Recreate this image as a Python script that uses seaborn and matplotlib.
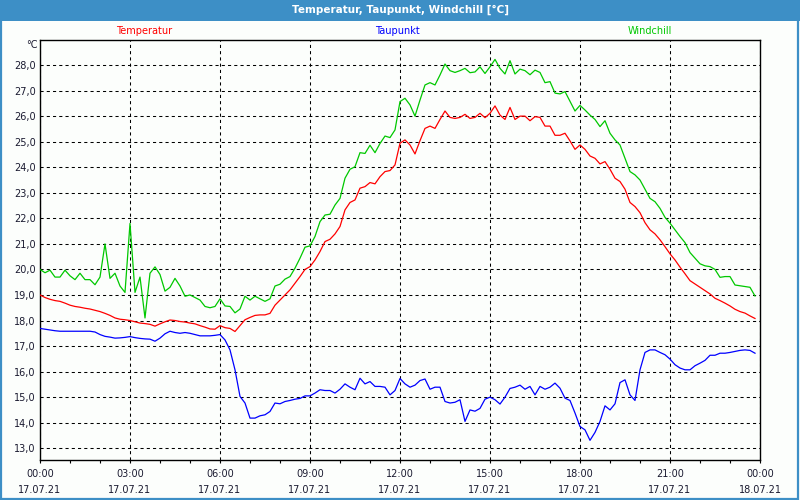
import numpy as np
import pandas as pd
import matplotlib
matplotlib.use("Agg")
import matplotlib.pyplot as plt
import matplotlib.dates as mdates
from matplotlib.patches import Rectangle
from matplotlib.ticker import FuncFormatter
import seaborn as sns

# ---------------- data (10-minute samples, 17.07.21 00:00 - 23:50) ----------------
start_time = "2021-07-17 00:00"
end_time = "2021-07-18 00:00"
series_names = ["Temperatur", "Taupunkt", "Windchill"]
series_colors = ["#ff0000", "#0000ff", "#00c800"]
title_text = "Temperatur, Taupunkt, Windchill [°C]"
unit_label = "°C"

temperatur = [
    19.0, 18.9, 18.83, 18.78, 18.75, 18.68, 18.6, 18.55, 18.52, 18.48, 18.45, 18.4,
    18.35, 18.28, 18.2, 18.1, 18.05, 18.03, 18.0, 17.95, 17.9, 17.88, 17.85, 17.78,
    17.87, 17.95, 18.02, 18.0, 17.96, 17.94, 17.9, 17.87, 17.8, 17.74, 17.67, 17.66,
    17.8, 17.72, 17.69, 17.57, 17.8, 18.03, 18.12, 18.2, 18.22, 18.22, 18.28, 18.6,
    18.8, 19.0, 19.2, 19.46, 19.72, 20.0, 20.11, 20.37, 20.7, 21.09, 21.18, 21.39,
    21.68, 22.33, 22.62, 22.72, 23.18, 23.24, 23.4, 23.35, 23.63, 23.83, 23.87, 24.09,
    24.94, 25.07, 24.87, 24.52, 25.04, 25.52, 25.61, 25.52, 25.87, 26.2, 25.95, 25.91,
    25.95, 26.07, 25.91, 25.95, 26.11, 25.94, 26.11, 26.4, 26.04, 25.87, 26.34, 25.87,
    26.0, 26.0, 25.82, 25.98, 25.95, 25.61, 25.61, 25.25, 25.25, 25.33, 25.03, 24.7,
    24.87, 24.7, 24.44, 24.35, 24.13, 24.22, 23.92, 23.57, 23.44, 23.14, 22.62, 22.46,
    22.22, 21.83, 21.55, 21.39, 21.16, 20.89, 20.61, 20.37, 20.09, 19.83, 19.56, 19.43,
    19.3, 19.17, 19.04, 18.87, 18.78, 18.68, 18.57, 18.44, 18.35, 18.29, 18.18, 18.08,
]

taupunkt = [
    17.69, 17.66, 17.63, 17.6, 17.58, 17.58, 17.58, 17.58, 17.58, 17.58, 17.58, 17.55,
    17.45, 17.38, 17.35, 17.31, 17.32, 17.34, 17.37, 17.33, 17.3, 17.28, 17.27, 17.19,
    17.31, 17.48, 17.58, 17.53, 17.5, 17.53, 17.5, 17.45, 17.4, 17.4, 17.4, 17.42,
    17.45, 17.24, 16.85, 16.07, 15.03, 14.77, 14.18, 14.18, 14.27, 14.31, 14.44, 14.77,
    14.74, 14.83, 14.87, 14.92, 14.95, 15.05, 15.05, 15.16, 15.29, 15.26, 15.26, 15.16,
    15.31, 15.52, 15.39, 15.29, 15.74, 15.52, 15.61, 15.42, 15.42, 15.39, 15.09, 15.26,
    15.73, 15.52, 15.39, 15.47, 15.65, 15.71, 15.31, 15.39, 15.39, 14.83, 14.77, 14.8,
    14.9, 14.05, 14.5, 14.45, 14.56, 14.92, 15.0, 14.9, 14.73, 15.0, 15.34, 15.39,
    15.47, 15.31, 15.42, 15.09, 15.42, 15.31, 15.39, 15.55, 15.35, 14.96, 14.87, 14.38,
    13.85, 13.72, 13.31, 13.62, 14.05, 14.66, 14.5, 14.74, 15.57, 15.68, 15.09, 14.87,
    16.07, 16.75, 16.85, 16.85, 16.75, 16.66, 16.49, 16.27, 16.14, 16.07, 16.07, 16.23,
    16.33, 16.44, 16.64, 16.64, 16.72, 16.72, 16.75, 16.79, 16.83, 16.85, 16.83, 16.72,
]

windchill = [
    20.0, 19.87, 19.97, 19.7, 19.7, 19.97, 19.75, 19.6, 19.85, 19.6, 19.6, 19.4,
    19.7, 21.0, 19.65, 19.85, 19.35, 19.1, 21.8, 19.1, 19.7, 18.1, 19.85, 20.1,
    19.8, 19.15, 19.3, 19.65, 19.35, 18.95, 19.0, 18.9, 18.8, 18.55, 18.5, 18.55,
    18.85, 18.57, 18.55, 18.3, 18.45, 18.95, 18.8, 18.95, 18.85, 18.75, 18.85, 19.35,
    19.42, 19.62, 19.72, 20.05, 20.44, 20.87, 20.92, 21.29, 21.87, 22.13, 22.16, 22.52,
    22.78, 23.57, 23.92, 24.02, 24.57, 24.54, 24.86, 24.57, 24.93, 25.22, 25.16, 25.46,
    26.57, 26.7, 26.44, 26.0, 26.63, 27.22, 27.31, 27.22, 27.61, 28.04, 27.78, 27.71,
    27.78, 27.87, 27.7, 27.73, 27.93, 27.67, 27.93, 28.22, 27.87, 27.65, 28.17, 27.65,
    27.84, 27.78, 27.62, 27.8, 27.71, 27.31, 27.35, 26.9, 26.87, 26.96, 26.58, 26.2,
    26.42, 26.24, 26.04, 25.87, 25.59, 25.82, 25.33, 25.07, 24.87, 24.35, 23.83, 23.7,
    23.5, 23.14, 22.78, 22.65, 22.39, 22.04, 21.81, 21.55, 21.29, 21.05, 20.66, 20.44,
    20.22, 20.14, 20.11, 20.0, 19.69, 19.72, 19.72, 19.39, 19.36, 19.33, 19.3, 18.96,
]

y_ticks = [13.0, 14.0, 15.0, 16.0, 17.0, 18.0, 19.0, 20.0, 21.0, 22.0, 23.0, 24.0, 25.0, 26.0, 27.0, 28.0]
y_limits = (12.54, 28.98)

# ---------------- build table ----------------
times = pd.date_range(start_time, periods=len(temperatur), freq="10min")
df = pd.concat([
    pd.DataFrame({"Zeit": times, "Wert": temperatur, "Reihe": series_names[0]}),
    pd.DataFrame({"Zeit": times, "Wert": taupunkt, "Reihe": series_names[1]}),
    pd.DataFrame({"Zeit": times, "Wert": windchill, "Reihe": series_names[2]}),
], ignore_index=True)

# ---------------- figure ----------------
plt.rcParams["font.family"] = ["DejaVu Sans"]
bg = "#fcfefc"
txt = "#1a1a30"
W, H = 800, 500
fig = plt.figure(figsize=(W / 100, H / 100), dpi=100, facecolor=bg)

# title bar and border
fig.patches.append(Rectangle((0, 1 - 21 / H), 1, 21 / H, transform=fig.transFigure,
                             facecolor="#3d8fc6", edgecolor="none", zorder=0))
fig.patches.append(Rectangle((1 / W, 1 / H), 1 - 3 / W, 1 - 2 / H, transform=fig.transFigure,
                             facecolor="none", edgecolor="#3d8fc6", linewidth=1.6, zorder=5))
fig.text(0.5, 1 - 10 / H, title_text, color="white", fontsize=7.5, fontweight="bold",
         ha="center", va="center")

# series labels
label_x = [144, 397, 650]
for name, col, lx in zip(series_names, series_colors, label_x):
    fig.text(lx / W, 1 - 31 / H, name, color=col, fontsize=7, ha="center", va="center")

ax = fig.add_axes([40 / W, 1 - 460 / H, 720 / W, 420 / H], facecolor=bg)

sns.lineplot(data=df, x="Zeit", y="Wert", hue="Reihe", hue_order=series_names,
             palette=series_colors, linewidth=0.9, legend=False, ax=ax, zorder=3)

ax.set_xlim(pd.Timestamp(start_time), pd.Timestamp(end_time))
ax.set_ylim(*y_limits)
ax.set_xlabel("")
ax.set_ylabel("")

ax.xaxis.set_major_locator(mdates.HourLocator(byhour=range(0, 24, 3)))
ax.xaxis.set_minor_locator(mdates.HourLocator())
ax.xaxis.set_major_formatter(mdates.DateFormatter("%H:%M\n%d.%m.%y"))
ax.set_yticks(y_ticks)
ax.yaxis.set_major_formatter(FuncFormatter(lambda v, p: f"{v:.1f}".replace(".", ",")))

ax.tick_params(axis="x", which="both", direction="out", length=2.5, width=0.8,
               color="black", labelsize=7, labelcolor=txt, pad=4)
ax.tick_params(axis="y", which="both", length=0, labelsize=7, labelcolor=txt, pad=3)
for lab in ax.get_xticklabels():
    lab.set_linespacing(1.75)

ax.grid(True, which="major", axis="both", color="black", linestyle=(0, (3.0, 3.0)),
        linewidth=0.75, zorder=1)
ax.set_axisbelow(True)
for s in ax.spines.values():
    s.set_color("black")
    s.set_linewidth(1.0)

fig.text(32 / W, 1 - 45 / H, unit_label, color=txt, fontsize=7, ha="center", va="center")

fig.savefig("out.png", dpi=100, facecolor=bg)
